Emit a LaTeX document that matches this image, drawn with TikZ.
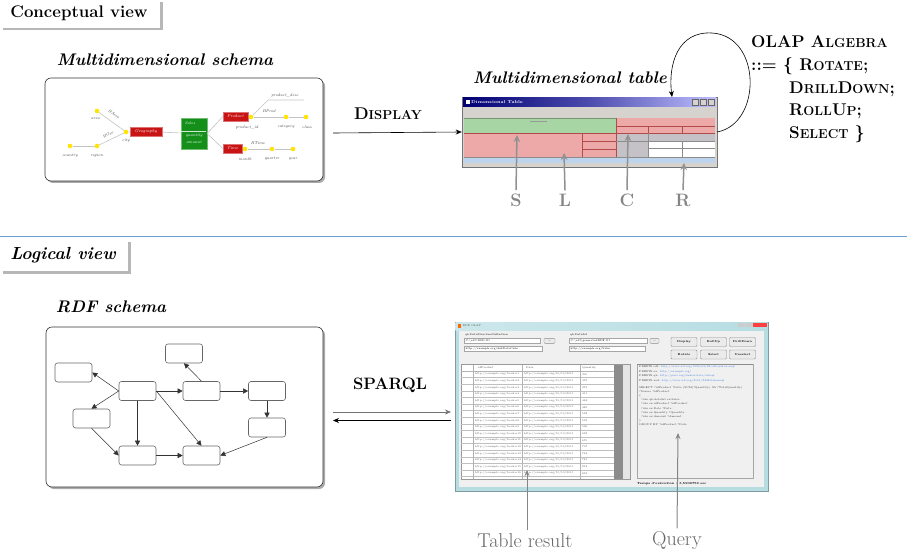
\documentclass[tikz,border=0pt]{standalone}
\usepackage{fontspec}
\usetikzlibrary{shadows,arrows.meta}
\definecolor{labelgray}{HTML}{858585}
\definecolor{geored}{HTML}{C81414}
\definecolor{salesgreen}{HTML}{14901A}
\definecolor{dotyellow}{HTML}{FFE400}
\definecolor{schline}{HTML}{C4C4C4}
\definecolor{tgreen}{HTML}{A8D5A4}
\definecolor{tred}{HTML}{EDA8A8}
\definecolor{tredline}{HTML}{B24A4A}
\definecolor{tgray}{HTML}{C4C2C6}
\definecolor{tstrip}{HTML}{D6D3CE}
\definecolor{tblue}{HTML}{BED4EC}
\definecolor{sepblue}{HTML}{6A9FD4}
\definecolor{winframe}{HTML}{B6DDE2}
\definecolor{winbody}{HTML}{F0F0F0}
\definecolor{linkblue}{HTML}{3C7FE0}
\newcommand\smc[2]{{\fontsize{#1}{#1}\selectfont #2}}
\begin{document}
\begin{tikzpicture}[x=1pt,y=-1pt,
  tagbox/.style={fill=white,drop shadow={shadow xshift=2.5pt,shadow yshift=-2.5pt,opacity=0.4,fill=black!70}},
  panel/.style={draw=black!80,line width=0.6pt,rounded corners=6pt,fill=white,inner sep=0pt,
     drop shadow={shadow xshift=2pt,shadow yshift=-2pt,opacity=0.55,fill=black!60}},
  tagtext/.style={font=\bfseries\fontsize{16.8}{19}\selectfont},
  tagtexti/.style={font=\bfseries\itshape\fontsize{17.5}{20}\selectfont},
  ititle/.style={font=\bfseries\itshape\fontsize{16.8}{19}\selectfont},
  redbox/.style={fill=geored,draw=geored!60!white,line width=0.3pt,inner sep=0pt,text=white,font=\itshape\fontsize{4.2}{5}\selectfont},
  ydot/.style={circle,fill=dotyellow,inner sep=0pt,minimum size=4.6pt},
  schl/.style={draw=schline,line width=0.6pt},
  schlab/.style={font=\itshape\fontsize{4}{5}\selectfont,text=black!75,inner sep=0.3pt},
  grayarr/.style={draw=labelgray!90,line width=1.5pt,-{Stealth[length=7pt,width=6.5pt]}},
  thinarr/.style={draw=labelgray,line width=1pt,-{Stealth[length=6pt,width=5pt]}},
  letter/.style={font=\bfseries\fontsize{18}{20}\selectfont,text=labelgray},
  caption/.style={font=\fontsize{20}{22}\selectfont,text=black!60},
  rdfn/.style={draw=black!60,line width=0.6pt,rounded corners=2.5pt,fill=white,minimum width=37pt,minimum height=19pt,inner sep=0pt},
  rdfarr/.style={draw=black!80,line width=0.5pt,-{Triangle[length=5pt,width=5pt]}},
  tiny/.style={font=\fontsize{2.6}{3}\selectfont,inner sep=0pt,anchor=west},
  btn/.style={draw=black!45,fill=black!8,rounded corners=1pt,inner sep=0pt,minimum width=26pt,minimum height=9pt,font=\bfseries\fontsize{2.8}{3}\selectfont},
  field/.style={draw=black!35,fill=white,line width=0.3pt}
]
\useasboundingbox (0,0) rectangle (907,556);

% ================= CONCEPTUAL VIEW =================
\path[tagbox] (0,0) rectangle (160,28);
\node[tagtext] (concl) at (79,13.5) {Conceptual view};

\node[ititle] (mstitle) at (165,60) {Multidimensional schema};
\node[panel,minimum width=278pt,minimum height=103pt] (schema) at (184,129.5) {};

% schema graphic
\node[ydot] (area) at (97,111) {};
\node[ydot] (city) at (126,132) {};
\node[ydot] (region) at (97,146) {};
\node[ydot] (country) at (70,146) {};
\node[redbox,minimum width=32pt,minimum height=9pt] (geo) at (146,131.5) {Geography};
\node[fill=salesgreen,draw=salesgreen!60!white,line width=0.3pt,minimum width=26pt,minimum height=31pt,inner sep=0pt] (sales) at (194,133.5) {};
\node[ydot] (pid) at (251,117) {};
\node[ydot] (cat) at (286,117) {};
\node[ydot] (cls) at (306,117) {};
\node[ydot] (month) at (245,149) {};
\node[ydot] (quarter) at (272,149) {};
\node[ydot] (year) at (293,149) {};
\node[redbox,minimum width=25pt,minimum height=9pt] (prod) at (235.5,116.5) {Product};
\node[redbox,minimum width=19pt,minimum height=9pt] (time) at (232.5,148.5) {Time};
\coordinate (pdk) at (268,100);
\coordinate (pde) at (304,100);
\draw[schl] (country) -- (region);
\draw[schl] (region) -- (city);
\draw[schl] (city) -- (geo);
\draw[schl] (area) -- (city);
\draw[schl] (geo) -- (sales);
\draw[schl] (sales.east) -- (prod.west);
\draw[schl] (sales.east) -- (time.west);
\draw[schl] (prod) -- (pid);
\draw[schl] (pid) -- (cat);
\draw[schl] (cat) -- (cls);
\draw[schl] (pid) -- (pdk) -- (pde);
\draw[schl] (time) -- (month);
\draw[schl] (month) -- (quarter);
\draw[schl] (quarter) -- (year);
\draw[white!80!salesgreen,line width=0.3pt] (sales.west) ++(0.5,-2.5) -- ++(25,0);
\node[schlab,text=white] (salest) at (190,123) {Sales};
\node[schlab,text=white] (qt) at (194,136) {quantity};
\node[schlab,text=white] (amt) at (194,142) {amount};
\node[schlab] (lab1) at (95.5,119) {area};
\node[schlab] (lab2) at (126,141) {city};
\node[schlab] (lab3) at (70,156) {country};
\node[schlab] (lab4) at (97,156) {region};
\node[schlab,rotate=-36] (lab5) at (114,114.5) {HArea};
\node[schlab,rotate=27] (lab6) at (108,134.5) {HGeo};
\node[schlab] (lab7) at (247,127) {product\_id};
\node[schlab] (lab8) at (286,127) {category};
\node[schlab] (lab9) at (307,127) {class};
\node[schlab] (lab10) at (269,111.5) {HProd};
\node[schlab] (lab11) at (285,95.5) {product\_desc};
\node[schlab] (lab12) at (245,159) {month};
\node[schlab] (lab13) at (272,159) {quarter};
\node[schlab] (lab14) at (293,159) {year};
\node[schlab] (lab15) at (258,143) {HTime};

% DISPLAY arrow
\coordinate (dispstart) at (333,133);
\node[font=\bfseries\fontsize{17}{19}\selectfont] (displ) at (388,114) {D\smc{13}{ISPLAY}};

% ---------- Multidimensional table window ----------
\node[ititle] (mttitle) at (570,78) {Multidimensional table};
\node[fill=tstrip,draw=black!55,line width=0.5pt,minimum width=255pt,minimum height=70pt,inner sep=0pt] (win) at (589.5,132) {};
\shade[left color=blue!45!black,right color=blue!25!white,middle color=blue!55!black!70!white] (463,98) rectangle (716,107);
\fill[white] (465.5,100.5) rectangle (469.5,104.5);
\node[font=\bfseries\fontsize{4.2}{5}\selectfont,text=white,anchor=west,inner sep=0pt] (wint) at (471,102.5) {Dimensional Table};
\foreach \bx in {692,700,708}{\fill[tstrip] (\bx,99.5) rectangle (\bx+6.5,105.5);\draw[black!60,line width=0.3pt] (\bx,99.5) rectangle (\bx+6.5,105.5);}
\fill[tstrip] (464,108) rectangle (715,118);
\fill[tgreen] (464,118) rectangle (616,133);
\fill[tred] (616,118) rectangle (715,133);
\fill[tred] (464,133) rectangle (616,157);
\fill[tgray] (616,133) rectangle (715,141);
\fill[tgray] (616,141) rectangle (648,157);
\fill[white] (648,141) rectangle (715,157);
\fill[tblue] (464,157) rectangle (715,163);
\draw[black!40,line width=0.3pt] (530,121) -- (547,121);
\draw[tredline,line width=0.6pt] (616,118) -- (616,157);
\draw[tredline,line width=0.6pt] (616,126) -- (715,126);
\draw[tredline,line width=0.6pt] (648,126) -- (648,133) (682,126) -- (682,133);
\draw[tredline,line width=0.6pt] (464,133) -- (715,133);
\draw[tredline,line width=0.6pt] (582,133) -- (582,157);
\draw[tredline,line width=0.6pt] (582,141.5) -- (616,141.5) (582,149) -- (616,149);
\draw[black!45,line width=0.5pt] (648,133) -- (648,157) (682,141) -- (682,157) (616,141) -- (715,141) (648,148.5) -- (715,148.5);
\draw[black!45,line width=0.4pt] (464,157) -- (715,157);
\draw[tgreen!70!black,line width=0.4pt] (464,118) -- (616,118);

\draw[line width=0.6pt,-{Stealth[length=6pt,width=5pt]}] (dispstart) -- (win.west);

% S L C R
\node[letter] (S) at (516,200) {S};
\node[letter] (L) at (565,200) {L};
\node[letter] (C) at (627,200) {C};
\node[letter] (R) at (683,200) {R};
\coordinate (Stip) at (517,135);
\coordinate (Ltip) at (564,153);
\coordinate (Ctip) at (628,134);
\coordinate (Rtip) at (684,163);
\draw[grayarr] (S.north) -- (Stip);
\draw[grayarr] (L.north) -- (Ltip);
\draw[grayarr] (C.north) -- (Ctip);
\draw[grayarr] (R.north) -- (Rtip);

% loop arrow
\coordinate (loopstart) at (717,132);
\coordinate (looptip) at (672,97);
\draw[line width=0.6pt,-{Stealth[length=6pt,width=5pt]}] (loopstart) .. controls (762,124) and (762,36) .. (712,33) .. controls (678,31) and (668,64) .. (looptip);

% OLAP algebra
\begin{scope}[every node/.style={font=\bfseries\fontsize{17}{20}\selectfont,anchor=west,inner sep=0pt}]
\node (ol1) at (751,42) {OLAP A\smc{13}{LGEBRA}};
\node (ol2) at (751,66) {::= \{ R\smc{13}{OTATE};};
\node (ol3) at (789,89) {D\smc{13}{RILL}D\smc{13}{OWN};};
\node (ol4) at (789,111) {R\smc{13}{OLL}U\smc{13}{P};};
\node (ol5) at (789,134) {S\smc{13}{ELECT} \}};
\end{scope}

% separator
\draw[sepblue,line width=0.8pt] (0,236) -- (907,236);

% ================= LOGICAL VIEW =================
\path[tagbox] (0,239) rectangle (128,271);
\node[tagtexti] (logl) at (63,255) {Logical view};
\node[ititle] (rdftitle) at (111,307) {RDF schema};
\node[panel,minimum width=277pt,minimum height=160pt] (rdf) at (184.5,407) {};

\node[rdfn] (n1) at (73.5,372.5) {};
\node[rdfn] (n2) at (184,353.5) {};
\node[rdfn] (n3) at (137.5,391) {};
\node[rdfn] (n4) at (201.5,391) {};
\node[rdfn] (n5) at (267,391) {};
\node[rdfn] (n6) at (91.5,418.5) {};
\node[rdfn] (n7) at (267,427.5) {};
\node[rdfn] (n8) at (137.5,455.5) {};
\node[rdfn] (n9) at (201.5,455.5) {};
\draw[rdfarr] (n3.west) -- (n1.east);
\draw[rdfarr] (n3.west) -- (n6.north);
\draw[rdfarr] (n3) -- (n4);
\draw[rdfarr] (n4.north) -- (n2.south);
\draw[rdfarr] (n4) -- (n5);
\draw[rdfarr] (n5) -- (n7);
\draw[rdfarr] (n3) -- (n8);
\draw[rdfarr] (n3.east) -- (n9.north);
\draw[rdfarr] (n6.south) -- (n8.west);
\draw[rdfarr] (n8) -- (n9);
\draw[rdfarr] (n7.south) -- (n9.east);

% SPARQL
\node[font=\bfseries\fontsize{16.5}{19}\selectfont] (sparql) at (390,385) {SPARQL};
\coordinate (spa) at (333,412);
\coordinate (spb) at (451,412);
\coordinate (spc) at (451,420.5);
\coordinate (spd) at (333,420.5);
\draw[draw=black!55,line width=0.6pt,-{Stealth[length=6pt,width=5pt]}] (spa) -- (spb);
\draw[line width=0.6pt,-{Stealth[length=6pt,width=5pt]}] (spc) -- (spd);

% ---------- RDF OLAP screenshot ----------
\node[fill=winframe,draw=winframe!70!black,line width=0.4pt,minimum width=313pt,minimum height=169pt,inner sep=0pt] (shot) at (611.5,406.5) {};
\shade[left color=winframe!70!white,right color=winframe] (455.5,322.5) rectangle (767.5,330);
\fill[orange!80!red] (458,324) rectangle (461,327.5);
\node[tiny,text=black!70] (stitle) at (462.5,326) {RDF OLAP};
\fill[black!20] (738,323) rectangle (745,326.5);
\fill[black!20] (745.5,323) rectangle (752.5,326.5);
\fill[red!75] (753,323) rectangle (767,326.5);
\fill[winbody] (459,331) rectangle (764,487);
% fields
\node[tiny] (f1l) at (465,335) {qb:DataStructureDefinition};
\draw[field] (464,338) rectangle (540,343.5);
\node[tiny] (f1t) at (465.5,340.8) {C:\textbackslash rdf\textbackslash DSD.ttl};
\node[btn,minimum width=11pt,minimum height=5pt] (b0) at (549.5,340.8) {...};
\draw[field] (464,346) rectangle (542,351.5);
\node[tiny] (f2t) at (465.5,348.8) {http://example.org/dsdDataCube};
\node[tiny] (f3l) at (570,335) {qb:DataSet};
\draw[field] (569,338) rectangle (647,343.5);
\node[tiny] (f3t) at (570.5,340.8) {C:\textbackslash rdf\textbackslash generatedRDF.ttl};
\node[btn,minimum width=9pt,minimum height=5pt] (b00) at (654.5,340.8) {...};
\draw[field] (569,346) rectangle (645,351.5);
\node[tiny] (f4t) at (570.5,348.8) {http://example.org/Sales};
\node[btn] (b1) at (684,342) {Display};
\node[btn] (b2) at (713.5,342) {RollUp};
\node[btn] (b3) at (742.5,342) {DrillDown};
\node[btn] (b4) at (684,354.5) {Rotate};
\node[btn] (b5) at (713.5,354.5) {Select};
\node[btn] (b6) at (742.5,354.5) {Unselect};
% result table
\node[draw=black!40,fill=white,line width=0.4pt,minimum width=169pt,minimum height=115pt,inner sep=0pt] (restab) at (545.5,421.5) {};
\fill[black!45] (614,364.5) rectangle (623,478.5);
\fill[black!10] (623,364.5) rectangle (630,478.5);
\draw[black!30,line width=0.3pt] (461,371) -- (614,371);
\foreach \i in {0,...,15}{
  \pgfmathsetmacro{\yy}{371+6.6*(\i+1)}
  \draw[black!25,line width=0.3pt] (461,\yy) -- (614,\yy);
  \pgfmathsetmacro{\yt}{371+6.6*\i+3.3}
  \node[tiny,text=black!65] (ra\i) at (475,\yt) {http://example.org/book.n\the\numexpr\i+1\relax};
  \node[tiny,text=black!65] (rb\i) at (524,\yt) {http://example.org/10/10/2011};
  \node[tiny,text=black!65] (rc\i) at (582,\yt) {\the\numexpr 300+37*\i\relax};
}
\draw[black!30,line width=0.3pt] (473,364.5) -- (473,478.5) (522,364.5) -- (522,478.5) (580,364.5) -- (580,478.5);
\node[tiny,text=black!75] (h1) at (478,367.8) {idProduct};
\node[tiny,text=black!75] (h2) at (526,367.8) {Date};
\node[tiny,text=black!75] (h3) at (582,367.8) {Quantity};
% query panel
\node[draw=black!35,fill=winbody,line width=0.4pt,minimum width=116pt,minimum height=114pt,inner sep=0pt] (qpanel) at (695,421) {};
\draw[black!45,line width=1pt] (637,364.5) -- (753,364.5);
\begin{scope}[every node/.style={tiny,text=black!80}]
\node (q1) at (639,367) {PREFIX rdf: \textcolor{linkblue}{http://www.w3.org/1999/02/22-rdf-syntax-ns\#}};
\node (q2) at (639,371.5) {PREFIX ex: \textcolor{linkblue}{http://example.org/}};
\node (q3) at (639,376) {PREFIX qb: \textcolor{linkblue}{http://purl.org/linked-data/cube\#}};
\node (q4) at (639,380.5) {PREFIX xsd: \textcolor{linkblue}{http://www.w3.org/2001/XMLSchema\#}};
\node (q5) at (639,388) {SELECT ?idProduct ?Date (SUM(?Quantity) AS ?TotalQuantity)};
\node (q6) at (639,392) {?Source ?idProduct};
\node (q7) at (639,396) {\{};
\node (q8) at (641,400) {?obs qb:dataSet ex:Sales .};
\node (q9) at (641,404) {?obs ex:idProduct ?idProduct .};
\node (q10) at (641,408.5) {?obs ex:Date ?Date .};
\node (q11) at (641,413) {?obs ex:Quantity ?Quantity .};
\node (q12) at (641,417) {?obs ex:Amount ?Amount .};
\node (q13) at (639,421) {\}};
\node (q14) at (639,425) {GROUP BY ?idProduct ?Date};
\end{scope}
\node[tiny,font=\bfseries\fontsize{3}{3.5}\selectfont] (temps) at (637,483.5) {Temps d'exécution : 3,5906759 sec};

% captions
\node[caption] (tres) at (525,541) {Table result};
\node[caption] (query) at (677,541) {Query};
\coordinate (trtip) at (527,470);
\coordinate (qtip) at (678,433);
\draw[thinarr] ([xshift=2pt]tres.north) -- (trtip);
\draw[thinarr] (query.north) -- (qtip);

\end{tikzpicture}
\end{document}
